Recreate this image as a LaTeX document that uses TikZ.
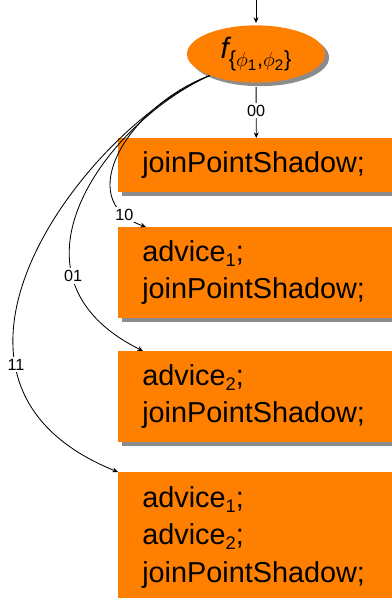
\documentclass[tikz,border=0pt]{standalone}
\usepackage{fontspec}
\setmainfont{Liberation Sans}
\usetikzlibrary{shapes.geometric, shadows, arrows.meta}
\definecolor{joinorange}{RGB}{255,128,0}
\newcommand{\lowidx}[1]{\raisebox{-3.5pt}{\fontsize{13}{13}\selectfont #1}}

\begin{document}
\begin{tikzpicture}[x=0.025cm, y=0.025cm,
  arr/.style={semithick, -{Stealth[length=4pt, width=3.5pt]}},
  cond/.style={fill=white, inner sep=1.5pt, font=\fontsize{11.5}{13}\selectfont},
  orangeshadow/.style={drop shadow={shadow xshift=0.1cm, shadow yshift=-0.09cm, fill=black!45, opacity=1}},
  codebox/.style={rectangle, fill=joinorange, anchor=north west, minimum width=6.9cm,
    text width=5.7cm, inner xsep=0.6cm, align=left,
    font=\fontsize{20.5}{26.5}\selectfont, orangeshadow}]
  \useasboundingbox (0,0) rectangle (391,598);

  % dispatch on the two conditions
  \node[ellipse, fill=joinorange, minimum width=3.45cm, minimum height=1.43cm, inner sep=0pt, orangeshadow]
    (split) at (256,544) {{\fontsize{21}{21}\selectfont\itshape f}\raisebox{-6pt}{\fontsize{15.5}{15.5}\selectfont\{$\phi_{\mathrm{1}}$,$\phi_{\mathrm{2}}$\}}};
  \coordinate (entry) at (256,598);

  % shadow variants
  \node[codebox, minimum height=1.35cm] (plain) at (118,460) {joinPointShadow;};
  \node[codebox, minimum height=2.275cm] (withA) at (118,371) {advice\lowidx{1};\\ joinPointShadow;};
  \node[codebox, minimum height=2.275cm] (withB) at (118,247) {advice\lowidx{2};\\ joinPointShadow;};
  \node[codebox, minimum height=3.25cm] (withAB) at (118,126) {advice\lowidx{1};\\ advice\lowidx{2};\\ joinPointShadow;};

  % branches
  \draw[arr, shorten >=1.5pt] (entry) -- (split);
  \draw[arr, shorten <=3pt] (split) -- node[cond] {00} (plain);
  \draw[arr] (split.205) .. controls (130,493) and (70,398) .. ([xshift=0.7cm]withA.north west) node[cond, pos=0.88] {10};
  \draw[arr] (split.205) .. controls (110,478) and (-10,323) .. ([xshift=0.625cm]withB.north west) node[cond, pos=0.73] {01};
  \draw[arr] (split.205) .. controls (90,473) and (-110,218) .. (withAB.north west) node[cond, pos=0.72] {11};
\end{tikzpicture}
\end{document}
